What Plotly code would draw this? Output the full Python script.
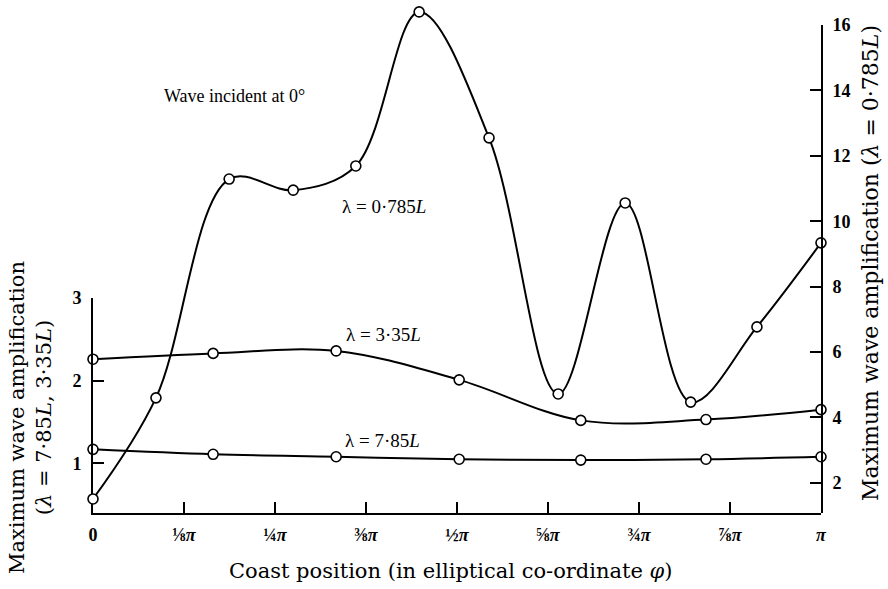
import plotly.graph_objects as go

# ---- data (x in units of pi) ----
phi_0785 = [0.0, 0.0865, 0.187, 0.275, 0.361, 0.448, 0.544, 0.639, 0.731, 0.821, 0.912, 1.0]
amp_0785 = [1.51, 4.60, 11.29, 10.95, 11.69, 16.4, 12.55, 4.72, 10.56, 4.47, 6.77, 9.34]

phi_335 = [0.0, 0.165, 0.334, 0.503, 0.670, 0.842, 1.0]
amp_335 = [2.26, 2.33, 2.36, 2.01, 1.52, 1.53, 1.65]

phi_785 = [0.0, 0.165, 0.334, 0.503, 0.670, 0.842, 1.0]
amp_785 = [1.17, 1.11, 1.08, 1.05, 1.04, 1.05, 1.08]

x_tickvals = [0, 0.125, 0.25, 0.375, 0.5, 0.625, 0.75, 0.875, 1.0]
x_ticktext = ["0", "⅛<i>π</i>", "¼<i>π</i>", "⅜<i>π</i>", "½<i>π</i>",
              "⅝<i>π</i>", "¾<i>π</i>", "⅞<i>π</i>", "<i>π</i>"]
left_ticks = [1, 2, 3]
right_ticks = [2, 4, 6, 8, 10, 12, 14, 16]

W, H = 888, 589
L, R, T, B = 93, 67, 8, 76
PW, PH = W - L - R, H - T - B
BOTTOM = H - B  # pixel row of the x axis

def px(x):
    return (x - L) / PW

def py(y):
    return (BOTTOM - y) / PH

SERIF = "Liberation Serif"
WIDE = "DejaVu Serif"

# right-axis scale: 1.08 at the x axis, 16 at pixel row 25
R_LO, R_HI, R_HI_PX = 1.08, 16.0, 25
r_per_px = (R_HI - R_LO) / (BOTTOM - R_HI_PX)
r_top = R_LO + r_per_px * PH  # value at the top of the full plot area

line_style = dict(color="black", width=2)
marker_style = dict(symbol="circle", size=10, color="white", line=dict(color="black", width=1.6))

fig = go.Figure()
fig.add_trace(go.Scatter(x=phi_785, y=amp_785, mode="lines+markers", line=dict(shape="spline", smoothing=1.0, **line_style),
                         marker=marker_style, xaxis="x", yaxis="y", showlegend=False, cliponaxis=False))
fig.add_trace(go.Scatter(x=phi_335, y=amp_335, mode="lines+markers", line=dict(shape="spline", smoothing=1.0, **line_style),
                         marker=marker_style, xaxis="x", yaxis="y", showlegend=False, cliponaxis=False))
fig.add_trace(go.Scatter(x=phi_0785, y=amp_0785, mode="lines+markers", line=dict(shape="spline", smoothing=1.0, **line_style),
                         marker=marker_style, xaxis="x2", yaxis="y2", showlegend=False, cliponaxis=False))
# empty trace so that the displayed right axis (y3) is rendered
fig.add_trace(go.Scatter(x=[], y=[], xaxis="x2", yaxis="y3", showlegend=False, hoverinfo="skip"))

tickfont = dict(family=SERIF, size=18, color="black", weight="bold")
axis_common = dict(showline=True, linecolor="black", linewidth=2, ticks="inside", ticklen=11,
                   tickwidth=2, tickcolor="black", showgrid=False, zeroline=False, tickfont=tickfont,
                   automargin=False)

fig.update_layout(
    width=W, height=H, autosize=False,
    margin=dict(l=L, r=R, t=T, b=B, pad=0, autoexpand=False),
    paper_bgcolor="white", plot_bgcolor="rgba(0,0,0,0)",
    xaxis=dict(domain=[0, 1], range=[0, 1], anchor="y", tickvals=x_tickvals, ticktext=x_ticktext,
               ticklabelstandoff=4, **axis_common),
    yaxis=dict(domain=[0, py(298)], range=[0.40, 3.0], anchor="x", side="left",
               tickvals=left_ticks, ticklabelstandoff=6, **axis_common),
    xaxis2=dict(domain=[0, 1], range=[0, 1], anchor="y2", visible=False, automargin=False),
    # data axis for the 0.785L curve (full height, hidden)
    yaxis2=dict(domain=[0, 1], range=[R_LO, r_top], anchor="x2", visible=False, automargin=False),
    # displayed right axis, same scale, ending at 16
    yaxis3=dict(domain=[0, py(R_HI_PX)], range=[R_LO, R_HI], anchor="x2", side="right",
                tickvals=right_ticks, ticklabelstandoff=6, **axis_common),
)

ann = []
def add_text(text, x, y, font, angle=0, xanchor="center", yanchor="middle"):
    ann.append(dict(text=text, x=px(x), y=py(y), xref="paper", yref="paper", showarrow=False,
                    font=font, textangle=angle, xanchor=xanchor, yanchor=yanchor))

add_text("Wave incident at 0°", 234, 96, dict(family=SERIF, size=18, color="black"))
add_text("λ = 0·785<i>L</i>", 384, 206, dict(family=SERIF, size=19, color="black"))
add_text("λ = 3·35<i>L</i>", 383, 334, dict(family=SERIF, size=19, color="black"))
add_text("λ = 7·85<i>L</i>", 382, 440, dict(family=SERIF, size=19, color="black"))

add_text("Coast position (in elliptical co-ordinate <i>φ</i>)", 451, 571, dict(family=WIDE, size=21, color="black"))
add_text("Maximum wave amplification<br>(<i>λ</i> = 7·85<i>L</i>, 3·35<i>L</i>)", 30, 418,
         dict(family=WIDE, size=21, color="black"), angle=-90)
add_text("Maximum wave amplification (<i>λ</i> = 0·785<i>L</i>)", 870, 263,
         dict(family=WIDE, size=22, color="black"), angle=-90)

fig.update_layout(annotations=ann)
fig.write_html("out.html")
